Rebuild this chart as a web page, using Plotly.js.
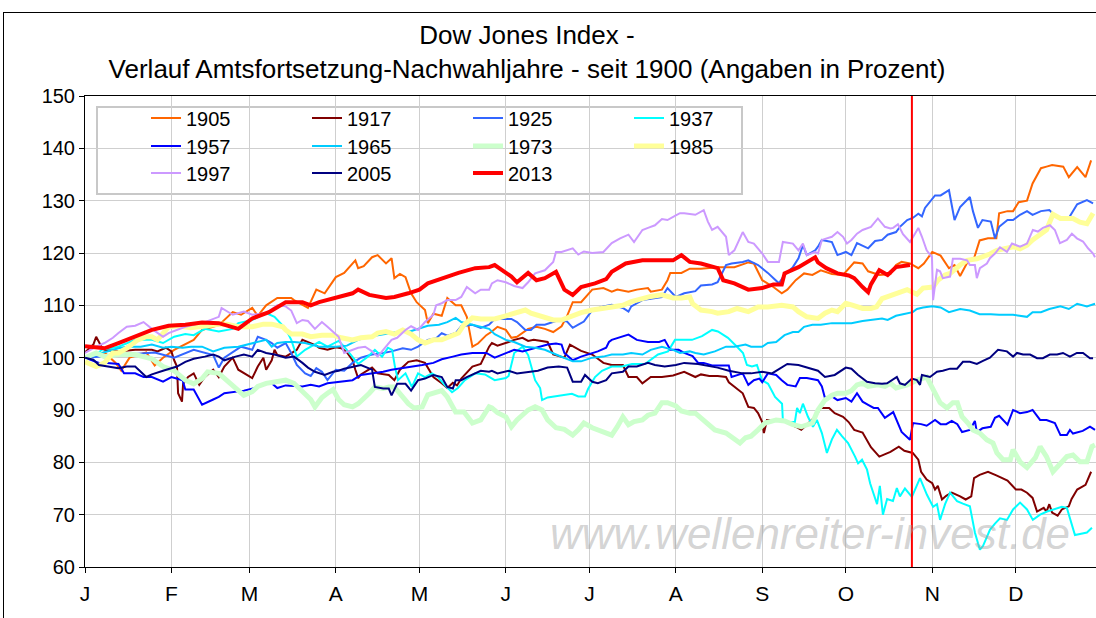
<!DOCTYPE html>
<html><head><meta charset="utf-8">
<script src="https://cdn.plot.ly/plotly-3.0.1.min.js"></script>
<style>
html,body{margin:0;padding:0;background:#fff;overflow:hidden;width:1096px;height:618px}
#chart{position:absolute;left:0;top:0;width:1096px;height:618px}
#frame{position:absolute;left:3px;top:12px;width:1200px;height:700px;border-left:1px solid #000;border-top:1px solid #000;pointer-events:none}
</style>
</head><body><div id="chart"></div><div id="frame"></div>
<script>
// x = day of year (0 = 1 Jan), y = index level in percent (start of year = 100)
const monthStarts = [0,31,59,90,120,151,181,212,243,273,304,334];
const monthLabels = ['J','F','M','A','M','J','J','A','S','O','N','D'];
const yTicks = [60,70,80,90,100,110,120,130,140,150];
const markerDay = 296.7;

const years = ['1905','1917','1925','1937','1957','1965','1973','1985','1997','2005','2013'];
const colors = ['#ff6600','#800000','#3366ff','#00ffff','#0000ff','#00ccff','#ccffcc','#ffff99','#cc99ff','#000080','#ff0000'];

const s1905 = [[0,100],[4,100.5],[7,101],[11,99],[13,97.5],[16,100],[22,101],[25,98.5],[28,100],[32,101.5],[39,103.4],[42,105.3],[48,106.2],[53,108.7],[56,108.2],[60,109.5],[62,108],[65,110],[69,111.4],[74,111.4],[75,111],[80,109.5],[83,113],[86,112.3],[90,115.4],[93,116.2],[97,118.6],[98,117.1],[100,117.5],[103,119.2],[105,119.6],[108,118],[110,119],[111,115.2],[113,116],[115,115.4],[117,112.3],[119,110.6],[122,109.1],[123,106.6],[125,108.4],[128,108],[130,111.4],[133,110],[135,110],[137,107.8],[139,102.1],[141,102.7],[144,104.3],[146,105],[148,105.9],[151,105.3],[153,103.8],[155,104],[159,105.5],[162,105.9],[165,105.5],[168,104.9],[171,106],[173,108],[175,110.6],[178,110.6],[182,113],[186,113.3],[189,112.6],[191,113],[195,112.6],[198,113],[202,113.3],[203,112.6],[207,113],[209,114.8],[210,116.2],[214,116.2],[217,117],[221,117],[227,117.3],[233,117.3],[238,118.2],[240,118],[243,114.8],[247,113.5],[250,112.3],[252,113],[255,114.8],[258,116.1],[261,115.8],[264,116.7],[268,116],[272,115.8],[274,117],[276,118.2],[279,118],[281,116.5],[285,115.8],[289,116],[291,117.7],[293,118.3],[296,118],[299,117.1],[301,118],[304,120.2],[307,119.5],[310,117.1],[312,117.7],[314,115.6],[317,118.6],[319,119],[321,122.4],[324,122.8],[327,122.8],[328,127.6],[331,128],[333,128],[335,129.7],[338,130],[340,133.3],[343,136.2],[345,136.5],[347,136.8],[351,136.5],[353,134.5],[356,136.4],[359,134.5],[361,137.7]];

const s1917 = [[0,101],[3,102.5],[4,104],[6,102],[7,101.5],[12,101.2],[18,101.5],[24,101.5],[26,101.2],[29,101.9],[31,101.2],[32,99.5],[33,98.3],[33.4,93.2],[34.8,91.6],[35.2,95],[37,96.3],[39,97],[41,94.8],[43,96.3],[46,97.7],[48,96.3],[50,98.3],[53,100],[55,97.7],[57,97],[60,96.1],[62,98.3],[64,100],[65,97.7],[67,99.5],[68,101.5],[69,100.5],[72,100.2],[74,100.9],[76,101.5],[78,103.4],[80,103],[83,102.3],[84,101.9],[87,101.5],[90,102],[92,101.8],[94,101],[96,99.5],[97,97.7],[98,96.1],[99,96.8],[103,98.1],[105,97],[109,96.7],[111,95.7],[113,97.7],[116,99.2],[119,99.5],[122,99],[125,96.3],[128,95.1],[130,94.2],[132,95.2],[133.5,94.7],[135,96],[139,98.3],[142,98.8],[145,102.1],[146,102.8],[148,102.3],[152,103],[154,103.4],[157,103.8],[159,103.2],[161,103.4],[164,103.2],[166,103],[168,100.6],[170,100.3],[172,100],[174,102.5],[176,101.9],[178,101.3],[182,100.6],[186,99],[189,98.6],[193,98.6],[195,96.3],[198,96.3],[200,95.1],[203,96.3],[207,96.3],[211,96.6],[215,97.3],[219,96.3],[221,96.8],[224,96.5],[227,96.5],[230,96.3],[231,95.3],[233,94.5],[236,93.2],[238,90.6],[240,90.4],[241.5,89.4],[243,87.7],[243.6,85.6],[244.7,88.1],[248,88.1],[251,87.9],[255,86.8],[257,86.2],[259,87.2],[262,88.7],[264,90.4],[267,90.4],[269,89.4],[272,88.7],[274,87.7],[276,86.2],[279,85.7],[281,83.7],[282,82.9],[285,81.1],[287,81.6],[289,82],[292,83],[294,82.2],[297,81.8],[299,80.5],[300,78.2],[302,76.7],[304,76],[305,74.8],[306,75.5],[307.5,72.9],[309,73.6],[311,74.2],[314,73.5],[316,72.9],[318,73.5],[319,77],[321,77.6],[324,78.2],[327,77.5],[331,76.5],[334,74.8],[336,74.8],[338,74.2],[340,73.2],[341.6,70.6],[344,71.3],[345,70.6],[346,72],[347,70.4],[349,69.8],[350.5,71],[353,71.6],[354,73],[356,74.8],[359,75.7],[361,78.2]];

const s1925 = [[0,100],[13,100.5],[25,101],[32,100],[39,101.5],[46,100.5],[48,98.1],[50,100],[53,101],[56,102.1],[60,101.5],[62,104],[65,103.4],[67,102.8],[69,101.9],[72,102.8],[74,100.9],[76,98.6],[79,97],[81,96.5],[83,98],[85,97.3],[87,95.7],[90,97.7],[93,97.5],[96,99],[99,100],[103,100.6],[107,100.9],[110,101.2],[114,101.8],[117,101.5],[119.5,102.1],[123,103.4],[126,103.7],[128,104.7],[130,104.2],[133,104.7],[135,106],[139,106.3],[142,105.7],[145,106.3],[147,107.4],[151,107.4],[153,107.4],[155,106.8],[158,105.3],[160,105.3],[162,106.3],[165,106.3],[170,107.2],[173,106.9],[175,105.7],[177,106.3],[179,106.9],[182,109.1],[186,109.8],[189,110.1],[193,109.5],[195,108.8],[196,109.8],[200,111],[203,111.3],[207,111.6],[209,113.3],[212,111.6],[215,112.3],[219,112.7],[221,113.8],[225,114],[227,114.4],[230,117.7],[232,118],[236,118.3],[238,118.6],[241.5,117.7],[245,116.2],[249,114.2],[251,115.8],[254,117.3],[256,119],[257.6,121.5],[259,119.6],[262,120.5],[263,121.2],[264.4,122.5],[268,122.1],[270,119.6],[273,120.2],[275,119.6],[277,121.9],[281,120.9],[283.5,122.3],[286,122.5],[288,123.5],[291,124],[292.4,125],[295,126.3],[297,126.7],[299,127.5],[300.3,127],[301.4,128.6],[305,131],[307,131],[310,132],[312,126.3],[314,128.8],[317.5,130.7],[318.6,128],[320.4,124.8],[322,126.3],[325,126],[326.5,122.8],[328,125],[331,126.3],[333,126.3],[335.5,127.3],[338,128],[340,127.3],[343,128],[346,128.2],[349,126.7],[353,126.7],[356,129.3],[359.5,130.1],[361.7,129.5]];

const s1937 = [[0,100],[4,100.5],[6,101.5],[12,102.1],[18,103.4],[24,103.4],[28,102.8],[32,104],[36,104.5],[39,104.3],[43,105.5],[48,105],[53,105.5],[55,106.6],[60,107.2],[65,108.5],[68,107.8],[72,105.5],[74,103.4],[76,100.2],[79,101.5],[81,102.1],[84,103],[87,102.1],[91,103.2],[93,102.1],[96,100],[98,98.8],[101.5,100.2],[104,101.5],[106.6,100.2],[108.7,101.9],[110.2,101.5],[111.2,98.3],[112.3,95.7],[115,97],[117.3,94.4],[119.5,97],[122,96.3],[124.5,97],[126.7,96.3],[129,94.8],[131.7,93.4],[133.8,94.2],[136.3,95.7],[140,97],[143.5,96.8],[147,95.7],[151,96.1],[152,96.5],[154,100.9],[157,102.1],[159,100.5],[161.5,95.7],[163.3,94.2],[164,91.9],[166,92.4],[168.6,92.6],[171,92.8],[174.7,93.1],[177,92.6],[179.4,92.6],[180.5,94],[183,96.3],[185.5,97.5],[189,98.3],[192.7,98.3],[196.3,98.8],[200.9,98.8],[205.6,100.6],[209.2,101.2],[211.7,103.4],[215.3,103.4],[217.8,103.4],[221.4,104.1],[225,105.3],[227.1,105],[230.7,103.8],[234.3,101.9],[236.1,100.9],[237.5,98.6],[239.3,98.3],[241.1,98.6],[242.9,95.7],[245.1,95],[247.6,92.5],[250.1,91.2],[250.4,88.1],[252.2,87.7],[254.7,87.7],[255.5,90.4],[256.5,89.4],[257.6,91.2],[259.4,88.7],[261.2,86.8],[262.6,88.1],[264.4,85.6],[266.2,81.8],[268,84.4],[269.8,86.2],[271.6,85],[273.8,83.7],[276.3,81.1],[277.4,79.8],[278.8,80.5],[280.6,78.6],[281.7,76],[284.2,72],[285.2,75.5],[286.3,70],[287.8,73],[289.9,72.6],[291.3,75.1],[292.4,73.5],[294.2,75],[296.7,73.4],[299.6,77],[302.1,73.8],[304.3,71.5],[305.7,72],[306.8,69],[308.6,72],[310.4,74.2],[312.9,72.6],[315,72.1],[317.5,71.6],[319.3,66.6],[321.1,63.3],[322.2,64],[324.7,67.1],[326.5,68.3],[328.3,69.3],[330.8,69],[333,71],[335.5,72.3],[338,71],[340.1,69],[342.7,70],[345.2,70.6],[347.3,71],[350.5,71.5],[352.3,71.3],[355.2,66.1],[357,66.3],[359.5,66.6],[361.3,67.5]];

const s1957 = [[0,100],[5,99],[8,99],[12,98.8],[14,97],[18,97],[21,96.3],[24,96.3],[28,95.4],[31,96.3],[35,95.7],[36,93.9],[39,93.9],[42,91],[46,92],[48,92.5],[50,93.2],[54,93.5],[57,93.7],[61,94.2],[65,95.1],[67,95.1],[69,94.2],[72,94.7],[78,94.5],[81,94.8],[84,94.5],[87,95.1],[91,95.4],[96,95.7],[99,96.7],[103,97],[107,97.3],[110,97.7],[114,98],[117,98.3],[121,98.6],[125,99],[128,99.7],[132,100.2],[135,100.6],[139,100.9],[144,100.9],[147,100],[151,100.9],[154,101.5],[157,101.2],[159,101.5],[163,102.1],[166,102.5],[169,102.7],[171,102.5],[172,100.9],[175,99.5],[178,100.2],[182,100.9],[184,101.2],[187,101.9],[188,103],[189,103.4],[193,104],[195,104.4],[198,103.4],[202,103],[206,103],[208,103.4],[210,101.5],[213,101.5],[215,100.9],[218,100.3],[220,99],[222,99],[225,98.5],[231,98.5],[232,96.3],[236,97],[238,94.8],[240,95.7],[242,96],[243,95.3],[245,97],[248,96.7],[250,95.7],[252,94.8],[255,94.5],[256.5,96.1],[259,96.1],[263,95.7],[264.4,94.5],[265.5,92.3],[268,92.6],[270,91.9],[273,92.3],[275,91.6],[277,93.2],[279,91.6],[281,91],[283,90.4],[284.5,90.4],[287,88.5],[290,89.6],[291.3,88],[293,85.8],[296,84.3],[297.1,87.5],[300,87.3],[302,87],[305,88.1],[307,87.3],[309,87.3],[311,87.9],[313,87.3],[314.7,85.8],[317.5,86.2],[319.3,87.9],[320,85.8],[322,86.5],[325,86.8],[326.5,88.5],[328,88.9],[331,87.2],[333,90],[335.5,89.4],[338,89.6],[340,90],[342.7,88.1],[345,88.1],[348,87.5],[350,85.2],[352.3,85.2],[353.4,86.2],[354.5,85.5],[358,86],[360.6,86.8],[362.4,86.2]];

const s1965 = [[0,100],[6,100.9],[12,101.8],[15,102.1],[20,102.1],[24,102.5],[28,101.9],[31,102.1],[35,101.9],[38,102.1],[42,102.1],[46,101.2],[50,101.9],[55,102.1],[60,102.8],[65,103.4],[67,102.1],[69,102.8],[72,103],[75,103],[79,102.8],[84,102.1],[90,102.1],[94,102.3],[98,103.4],[102,104],[105,104.3],[109,104.6],[112,104.9],[116,104.9],[119.5,105.5],[123,106.1],[127,106.3],[130,106.8],[133,107.6],[135,106.8],[139,106.3],[142,105.9],[145,105.5],[147,104.5],[151,103.4],[154,103],[158,102.1],[161.5,101.9],[165,101.5],[169,100.6],[172,100],[175,99.3],[178,99.3],[182,100],[186,100.2],[189,100.6],[193,100.6],[196,100.9],[200,100.6],[203,101.5],[207,102.1],[211,101.5],[213.5,100.9],[217,101.2],[219,100.9],[222,100.6],[226,101.2],[230,102.1],[233,102.1],[237,102.5],[239,102.1],[243,102.1],[245,102.8],[248,103],[251,104.3],[254,104.9],[256,104.9],[258,105.9],[261,106.3],[264,106.3],[268,106.6],[272,106.6],[275,106.6],[279,107],[282,107.2],[286,107.5],[288,107.2],[291,108],[293.5,108.3],[297,108.7],[298.5,109.3],[300.7,109.6],[304,109.8],[307,109.6],[310,108.7],[314,109.3],[317.5,109],[321,108.3],[325,108.3],[328,108.2],[333,108.2],[338,107.8],[340,108.7],[343,108.7],[346,109.3],[350,109.8],[353,109.3],[356,110.3],[359.5,109.8],[362.4,110.3]];

const s1973 = [[0,100],[4,100.9],[7,100.2],[12,100.6],[18,100.6],[24,99.8],[28,98.3],[32,97.5],[36,95.7],[39,95],[42,96],[44,97.3],[48,97],[51,95.7],[55,93.9],[57,92.8],[60,93.5],[62,94.5],[65,95.1],[68,95.3],[72,95.7],[75,95.1],[79,93.2],[81,92],[82.5,90.6],[85,92.4],[87,93.2],[89,93.9],[91,92],[93,91],[96,90.6],[98,91.2],[102,93.2],[104,94.4],[107,94.1],[109,94.4],[111,94.4],[114,92.5],[116,91.2],[118,90.4],[121,90.6],[123,92.9],[126,93.4],[128,93.7],[130,92.5],[133,89.6],[136,89.6],[139,87.5],[142,88.1],[145,90.6],[146,90.4],[148,89.5],[151,88.7],[153,86.8],[155,88.1],[159,90],[161.5,90.6],[164,90],[166,88.1],[169,86.6],[172,86.3],[175,85.2],[177,86.2],[179,87.5],[182,86.6],[186,85.9],[189,85.2],[191,86.8],[193,88.7],[195,87.2],[197,87.8],[200,88.1],[202,89],[204.5,89.4],[207,91.4],[209,91.4],[212,90.8],[214,89.8],[217,89.4],[219,89.4],[222,88.1],[226,86.2],[230,85.6],[233,84.3],[235,83.7],[237,84.7],[239,85],[241.5,86.2],[244,87.5],[248,88.1],[251,87.9],[254,87.2],[257,86.8],[261,87.5],[263,90],[265.5,91.9],[268,92.8],[270,93.2],[273,93.2],[275,93.7],[277,94.8],[279,95.1],[281,94.5],[284.5,94.8],[287,94.5],[289,95.1],[291,94.2],[295,94.8],[298.5,95.7],[302,96.3],[304.3,93.7],[306.8,91.4],[309.3,90.4],[311.4,91.4],[313,91.4],[314.7,88.7],[316.8,87.5],[318.6,86.2],[321,85.6],[323.6,84.3],[325.8,83.7],[327.2,81.8],[329.4,80.5],[332,80.5],[333,82.4],[335.5,80.1],[338,79],[339,79.6],[341,80.9],[342.7,83],[345,81.1],[347.3,78.2],[350,79.8],[352.3,81.1],[354.5,81.4],[357,80.1],[359.5,80.1],[361.3,83],[362.4,83.3]];

const s1985 = [[0,99.2],[4,98.3],[7,99],[10,100.9],[12,100.9],[15,101.8],[19,103.4],[22,104],[24,104],[26,103.4],[30,105.9],[33,106.1],[38,105.7],[43,106.1],[48,106.4],[51,106.4],[55,105.9],[60,105.9],[64,106.4],[67,106.4],[71,105.9],[72,105.3],[74,104.5],[78,104.5],[81,104],[85,104.3],[89,104.3],[92,103.8],[96,103.4],[99,103.8],[103,104],[105,104.7],[108,105],[111,104.5],[114,105.3],[117,104.5],[119.5,103.4],[122,102.8],[125,103.4],[128,103.4],[132,104.3],[134,104.7],[136,106.3],[139,107.6],[142,107.4],[145,107.4],[147,107.4],[151,108],[154,108.5],[158,109.1],[160,108.5],[164,107.9],[168,107.2],[171,107.2],[175,108],[178,108.6],[182,109.1],[186,109.4],[189,109.8],[193,110],[196,110.7],[200,111.4],[203,111.7],[207,112],[211,111.4],[214,111.4],[217,111.6],[218,110.3],[221,109.1],[225,108.8],[227,108.5],[231,108.8],[234,109.4],[238,108.8],[241.5,109.7],[245,109.7],[250,110],[254,109.7],[256,108.8],[259,107.8],[263,107.5],[265.5,108.5],[268,109.1],[270,108.8],[273,110.4],[275,110.1],[279,109.4],[282,109.4],[284,109.7],[286,111.3],[289,111.8],[291,112.3],[295,113],[298.5,112.1],[300.7,113.3],[304.3,113.5],[306,114.8],[308.6,115.8],[310.4,116.1],[314,117.7],[316.5,118.6],[320,118.9],[322,119.2],[324.7,119.8],[327.2,120.5],[330.8,120.8],[333,121.2],[335.5,120.8],[338,121.5],[340,122.5],[342.7,123.5],[345,124.4],[347.3,127.4],[350,126.6],[352.3,126.6],[354.5,126.6],[357,125.9],[359.5,125.6],[361.7,127.6]];

const s1997 = [[0,100.9],[4,102.1],[7,102.8],[10,103.8],[12,104.7],[15,105.9],[18,106.1],[21,106.8],[24,105.5],[28,104],[30,104.7],[33,105.3],[36,105.9],[39,106.3],[43,106.8],[48,107.8],[49,109.5],[53,108.2],[57,108.8],[60,108.2],[65,108.5],[69,110],[72,109.8],[74,109],[76,106.6],[78,107.2],[80,107],[82.5,105.5],[85,106.8],[87,105.9],[91,104],[93,100.9],[96,101.5],[98,101.9],[100.5,102.1],[103,101.2],[105,100.2],[108,102.1],[110,103.4],[112,103.8],[115,105.3],[117,106],[119.5,105.3],[122,106.8],[125,108.2],[126,110],[128,110.4],[130,111],[133,111],[135,111.6],[137,113.5],[140,112.3],[142,113],[145,113],[146,114.2],[148,114.8],[151,114.4],[154,113.7],[157,113.3],[159,114.4],[161.5,116.1],[165,116.7],[168,118.3],[169,120.2],[171,120.2],[175,120.9],[177,119.7],[179,120.3],[182,120],[186,120.2],[189,121.9],[192,122.8],[195,123.5],[197,122.1],[200,124.4],[202,124.8],[204.5,125.3],[207,126.5],[209,126.3],[212,127.2],[213.5,127.6],[215,127.6],[219,127.3],[222,128.2],[223.5,126],[225,124.4],[227,125],[230,123.1],[231,119.6],[233,120.5],[236,124],[238,122.1],[240,121.8],[243,119.9],[245,118.3],[249,118.3],[250.4,122.1],[254,121.8],[256,120.5],[257.6,121.8],[259,119.6],[262,120.2],[263,119.9],[264.4,122.5],[268,123.1],[270,124],[272,123.1],[273.4,121.8],[275,122.5],[277,123.7],[279,124.4],[282,125],[284.5,126.6],[287,125],[289,124.7],[290,124.8],[291.7,125.5],[293.5,123.6],[296,122.1],[297.8,123.7],[299,124.8],[300.3,123.1],[302,120.5],[303.9,119.2],[304.3,111],[305.7,116.8],[306.8,116.5],[307.8,115.2],[310.4,115.5],[311.4,118.9],[314,118.9],[316.5,118.6],[317.5,117.7],[319.3,117.7],[320,115.2],[321.1,117.1],[323.6,118],[324.7,119],[326.5,119.9],[328.3,121.1],[330.8,120.2],[332.6,121.8],[335.5,121.2],[338,121.8],[340.1,124.4],[341.9,124.1],[343.7,124.8],[346.2,125.3],[348,124.4],[349.8,121.9],[352.3,122.5],[354.1,123.7],[355.9,122.8],[358.1,122.2],[359.9,120.9],[361.7,119.9],[362.4,119.2]];

const s2005 = [[0,100],[3,99.6],[5,98.6],[8,98.3],[12,98],[15,98.3],[18,98.3],[22,96.3],[24,96.8],[28,97.5],[31,97.9],[33,98.3],[36,99.2],[39,99.8],[43,100.2],[46,100.6],[48,100.2],[50,99.5],[54,100.2],[57,100.6],[60,100.2],[62,101.5],[65,100.9],[68,100.6],[72,100],[75,100.2],[78,99],[80,98.1],[82.5,97.3],[84,97],[86,96.7],[89,97.3],[91,97.5],[93,97.9],[96,98.3],[99,98.6],[103,97.7],[104,94.4],[107,94.1],[109,94.1],[110,92.8],[112,95],[115,95],[117,93.7],[119.5,95.7],[122,96],[125,96.7],[128,96.3],[130,94.4],[132,94.1],[133,95.7],[135,95.7],[137,96.3],[140,97],[142,97.5],[145,97.3],[146,97.5],[148,97],[152,97.5],[155,97],[159,97.3],[162.5,97.5],[166,98.1],[170,98.3],[173,98.1],[175,95.4],[178,95.4],[179.4,96.7],[182,95.4],[184,95.1],[187,95.7],[189,97],[193,97.3],[195,98.3],[198,98.3],[202,99],[204.5,98.6],[208,98.3],[212,98.6],[215,99],[220,98.8],[227,98.1],[231,97.5],[236,97],[239,97],[243,97.3],[246.5,97],[250,98.1],[252,98.8],[256,98.6],[259,98.1],[263,97.5],[265.5,96.3],[269,96.7],[273,98.1],[275,97.9],[277.4,96.7],[280.6,95.4],[283.5,95.1],[286,95],[287.8,95.1],[289.5,95.7],[291.3,96.3],[292.4,95.1],[294.2,94.8],[296.7,96],[298.5,95.7],[299.6,94.8],[300.3,96.7],[303.2,96.3],[305.7,97.3],[307.8,97.5],[310.4,97.9],[312.9,97.9],[315,99.2],[317.5,99.2],[320,98.8],[322.2,99.4],[324.7,100],[327.6,101.5],[330.8,101.2],[333,100.2],[334.4,100.9],[336.6,100.6],[339.1,100.6],[341.6,99.9],[343.7,99.9],[346.2,100.6],[348.8,100.6],[350.9,100.9],[353.4,100.2],[355.9,100.9],[358.1,100.9],[360.6,99.9],[361.7,99.9]];

const s2013 = [[0,102.2],[7,101.8],[12,102.8],[18,104],[24,105.3],[30,106.1],[36,106.3],[42,106.7],[48,106.6],[55,105.5],[60,107.5],[66,108.7],[72,110.6],[78,110.6],[81,110],[84,110.6],[90,111.4],[96,112.3],[98,113],[102,112],[108,111.4],[111,111.6],[116,112.3],[120,113],[123,114.2],[128,115.2],[134,116.2],[140,117.1],[145,117.3],[147,117.7],[151,116.2],[153,115.5],[155,114.4],[159,116.2],[162,114.8],[165,115.2],[169,116.4],[172,113],[175,112],[178,113.5],[183,114.2],[187,115],[189,116.4],[194,118],[200,118.6],[206,118.6],[211,118.6],[214,119.6],[217,118.3],[221,118],[227,117.1],[229,114.8],[233,114.2],[238,113],[243,113.3],[247,114],[250,114],[251,116.1],[256,117.3],[262,119.2],[263,118.2],[266,117.1],[270,116.1],[274,115.7],[276,115.2],[279,113.5],[281,112.5],[282,114],[285,116.7],[288,115.8],[291,117.3],[296,117.7]];

const seriesData = [s1905,s1917,s1925,s1937,s1957,s1965,s1973,s1985,s1997,s2005,s2013];
const widths = [2,2,2,2,2,2,5,5,2,2,4];
const legendOf = ['legend','legend','legend','legend','legend2','legend2','legend2','legend2','legend3','legend3','legend3'];

const FONT = '"Liberation Sans", Arial, sans-serif';
const traces = seriesData.map((s,i)=>({
  type:'scatter', mode:'lines', name:years[i],
  x:s.map(p=>p[0]), y:s.map(p=>p[1]),
  line:{color:colors[i], width:widths[i]},
  legend:legendOf[i], hoverinfo:'skip'
}));

const W=1096,H=618,L=85,T=96,B=51;
const pw=W-L, ph=H-T-B;
const px=v=>(v-L)/pw, py=v=>(H-B-v)/ph;
const legendBase = {orientation:'h', entrywidth:116, entrywidthmode:'pixels', xanchor:'left', yanchor:'middle',
  bgcolor:'rgba(0,0,0,0)', borderwidth:0, font:{family:FONT,size:20,color:'#000'}, traceorder:'normal'};

const layout = {
  width:W, height:H, margin:{l:L,r:0,t:T,b:B},
  paper_bgcolor:'#fff', plot_bgcolor:'#fff',
  font:{family:FONT,color:'#000'},
  title:{text:'Dow Jones Index -<br>Verlauf Amtsfortsetzung-Nachwahljahre - seit 1900 (Angaben in Prozent)',
    x:527/W, xref:'container', xanchor:'center', y:1-44/H, yref:'container', yanchor:'top',
    font:{family:FONT,size:26,color:'#000'}},
  xaxis:{range:[0,(W-L)/2.787], tickvals:monthStarts, ticktext:monthLabels, showgrid:true, gridcolor:'#cfcfcf', gridwidth:1,
    showline:true, linecolor:'#000', linewidth:1, mirror:true, ticks:'outside', ticklen:5, tickcolor:'#000',
    ticklabelstandoff:3, tickfont:{family:FONT,size:21,color:'#000'}, zeroline:false, fixedrange:true},
  yaxis:{range:[60,150], tickvals:yTicks, showgrid:true, gridcolor:'#cfcfcf', gridwidth:1,
    showline:true, linecolor:'#000', linewidth:1, ticks:'outside', ticklen:5, tickcolor:'#000',
    tickfont:{family:FONT,size:20,color:'#000'}, zeroline:false, fixedrange:true},
  legend:Object.assign({}, legendBase, {x:px(146), y:py(118)}),
  legend2:Object.assign({}, legendBase, {x:px(146), y:py(146)}),
  legend3:Object.assign({}, legendBase, {x:px(146), y:py(173)}),
  shapes:[
    {type:'rect', xref:'paper', yref:'paper', x0:px(97), x1:px(742), y0:py(194), y1:py(107),
      fillcolor:'#fff', line:{color:'#c8c8c8', width:2}, layer:'between'},
    {type:'line', xref:'x', yref:'paper', x0:markerDay, x1:markerDay, y0:0, y1:1,
      line:{color:'#ff0000', width:2}, layer:'above'}
  ],
  annotations:[
    {text:'<i>www.wellenreiter-invest.de</i>', xref:'paper', yref:'paper', x:px(810), y:py(533),
      xanchor:'center', yanchor:'middle', showarrow:false,
      font:{family:FONT,size:44,color:'rgba(160,160,160,0.45)'}}
  ],
  showlegend:true
};
Plotly.newPlot('chart', traces, layout, {staticPlot:true, displayModeBar:false});
</script></body></html>
